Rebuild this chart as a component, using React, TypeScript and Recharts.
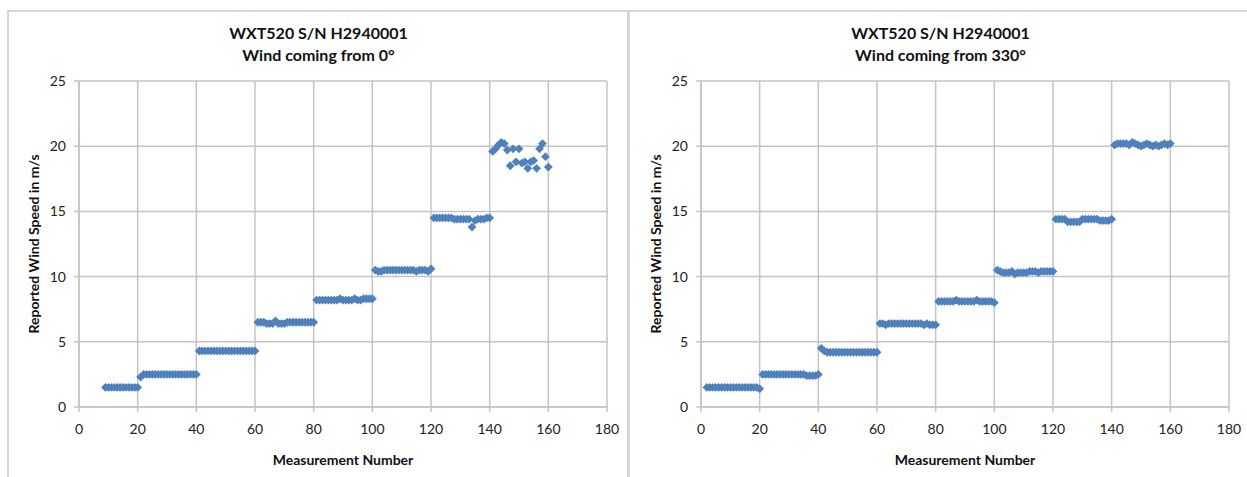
import { ScatterChart, Scatter, XAxis, YAxis, CartesianGrid, Label } from "recharts"

const xTicks = [0, 20, 40, 60, 80, 100, 120, 140, 160, 180]
const yTicks = [0, 5, 10, 15, 20, 25]

// wind from 0°, first measurement is #9
const start0 = 9
const speeds0 = [
  1.5, 1.5, 1.5, 1.5, 1.5, 1.5, 1.5, 1.5, 1.5, 1.5, 1.5, 1.5,
  2.3, 2.5, 2.5, 2.5, 2.5, 2.5, 2.5, 2.5, 2.5, 2.5, 2.5, 2.5, 2.5, 2.5, 2.5, 2.5, 2.5, 2.5, 2.5, 2.5,
  4.3, 4.3, 4.3, 4.3, 4.3, 4.3, 4.3, 4.3, 4.3, 4.3, 4.3, 4.3, 4.3, 4.3, 4.3, 4.3, 4.3, 4.3, 4.3, 4.3,
  6.5, 6.5, 6.5, 6.4, 6.4, 6.4, 6.6, 6.4, 6.4, 6.4, 6.5, 6.5, 6.5, 6.5, 6.5, 6.5, 6.5, 6.5, 6.5, 6.5,
  8.2, 8.2, 8.2, 8.2, 8.2, 8.2, 8.2, 8.2, 8.3, 8.2, 8.2, 8.2, 8.2, 8.3, 8.2, 8.2, 8.3, 8.3, 8.3, 8.3,
  10.5, 10.4, 10.4, 10.5, 10.5, 10.5, 10.5, 10.5, 10.5, 10.5, 10.5, 10.5, 10.5, 10.5, 10.4, 10.5, 10.5, 10.5, 10.4, 10.6,
  14.5, 14.5, 14.5, 14.5, 14.5, 14.5, 14.5, 14.4, 14.4, 14.4, 14.4, 14.4, 14.4, 13.8, 14.3, 14.4, 14.4, 14.4, 14.5, 14.5,
  19.6, 19.8, 20.1, 20.3, 20.2, 19.7, 18.5, 19.8, 18.8, 19.8, 18.7, 18.8, 18.3, 18.8, 18.9, 18.3, 19.8, 20.2, 19.2, 18.4,
]

// wind from 330°, first measurement is #2
const start330 = 2
const speeds330 = [
  1.5, 1.5, 1.5, 1.5, 1.5, 1.5, 1.5, 1.5, 1.5, 1.5, 1.5, 1.5, 1.5, 1.5, 1.5, 1.5, 1.5, 1.5, 1.4,
  2.5, 2.5, 2.5, 2.5, 2.5, 2.5, 2.5, 2.5, 2.5, 2.5, 2.5, 2.5, 2.5, 2.5, 2.5, 2.4, 2.4, 2.4, 2.4, 2.5,
  4.5, 4.3, 4.2, 4.2, 4.2, 4.2, 4.2, 4.2, 4.2, 4.2, 4.2, 4.2, 4.2, 4.2, 4.2, 4.2, 4.2, 4.2, 4.2, 4.2,
  6.4, 6.4, 6.3, 6.4, 6.4, 6.4, 6.4, 6.4, 6.4, 6.4, 6.4, 6.4, 6.4, 6.4, 6.4, 6.3, 6.4, 6.3, 6.3, 6.3,
  8.1, 8.1, 8.1, 8.1, 8.1, 8.1, 8.2, 8.1, 8.1, 8.1, 8.1, 8.1, 8.1, 8.2, 8.1, 8.1, 8.1, 8.1, 8.1, 8.0,
  10.5, 10.4, 10.3, 10.3, 10.3, 10.4, 10.2, 10.3, 10.3, 10.3, 10.3, 10.4, 10.4, 10.4, 10.3, 10.4, 10.4, 10.4, 10.4, 10.4,
  14.4, 14.4, 14.4, 14.4, 14.2, 14.2, 14.2, 14.2, 14.2, 14.4, 14.4, 14.4, 14.4, 14.4, 14.4, 14.3, 14.3, 14.3, 14.3, 14.4,
  20.1, 20.2, 20.2, 20.2, 20.2, 20.1, 20.3, 20.2, 20.1, 20.0, 20.1, 20.2, 20.1, 20.0, 20.1, 20.0, 20.1, 20.2, 20.1, 20.2,
]

const FONT = "Lato, 'Liberation Sans', sans-serif"
const GRID = "#c4c4c4"
const BLUE = "#4F81BD"

const toPoints = (start: number, speeds: number[]) => speeds.map((y, i) => ({ x: start + i, y }))

const Diamond = (p: any) => {
  const { cx, cy } = p
  const r = 4.4
  return <path d={`M${cx},${cy - r}L${cx + r},${cy}L${cx},${cy + r}L${cx - r},${cy}Z`} fill={BLUE} />
}

const YTitle = (p: any) => {
  const { x, y, height } = p.viewBox
  const cx = x + 25
  const cy = y + height / 2
  return (
    <text x={cx} y={cy} transform={`rotate(-90, ${cx}, ${cy})`} textAnchor="middle" dominantBaseline="central"
      fontFamily={FONT} fontWeight="bold" fontSize={14} fill="#111">
      Reported Wind Speed in m/s
    </text>
  )
}

const XTitle = (p: any) => {
  const { x, y, width } = p.viewBox
  return (
    <text x={x + width / 2} y={y + 52} textAnchor="middle" dominantBaseline="central"
      fontFamily={FONT} fontWeight="bold" fontSize={14} fill="#111">
      Measurement Number
    </text>
  )
}

function Panel({ left, width, right, title, data }: { left: number; width: number; right: number; title: string; data: { x: number; y: number }[] }) {
  return (
    <>
      <div style={{ position: "absolute", left: left + 71 + 264 - 24.5 - 150, top: 22, width: 300, textAlign: "center", fontFamily: FONT, fontWeight: "bold", fontSize: 16, lineHeight: "22px", color: "#111" }}>
        <div>WXT520 S/N H2940001</div>
        <div>{title}</div>
      </div>
      <div style={{ position: "absolute", left, top: 11 }}>
        <ScatterChart width={width} height={466} margin={{ top: 70, right, bottom: 0, left: 0 }}>
          <CartesianGrid stroke={GRID} strokeWidth={1.5} />
          <XAxis type="number" dataKey="x" domain={[0, 180]} ticks={xTicks} height={70} tickSize={5} tickMargin={12}
            axisLine={{ stroke: GRID, strokeWidth: 1.5 }} tickLine={{ stroke: GRID, strokeWidth: 1.5 }}
            tick={{ fill: "#222", fontSize: 14, fontFamily: FONT }}>
            <Label content={XTitle} />
          </XAxis>
          <YAxis type="number" dataKey="y" domain={[0, 25]} ticks={yTicks} width={71} tickSize={5} tickMargin={8}
            axisLine={{ stroke: GRID, strokeWidth: 1.5 }} tickLine={{ stroke: GRID, strokeWidth: 1.5 }}
            tick={{ fill: "#222", fontSize: 14, fontFamily: FONT }}>
            <Label content={YTitle} />
          </YAxis>
          <Scatter data={data} shape={Diamond} isAnimationActive={false} />
        </ScatterChart>
      </div>
    </>
  )
}

export default function App() {
  return (
    <div style={{ position: "absolute", left: 0, top: 0, width: 1247, height: 477, background: "#fff", overflow: "hidden" }}>
      <div style={{ position: "absolute", left: 7, top: 10, width: 623, height: 480, border: "2px solid #d6d6d6", boxSizing: "border-box" }} />
      <div style={{ position: "absolute", left: 627, top: 10, width: 640, height: 480, border: "2px solid #d6d6d6", boxSizing: "border-box" }} />
      <Panel left={8} width={621} right={22} title="Wind coming from 0°" data={toPoints(start0, speeds0)} />
      <Panel left={630} width={617} right={18} title="Wind coming from 330°" data={toPoints(start330, speeds330)} />
    </div>
  )
}
